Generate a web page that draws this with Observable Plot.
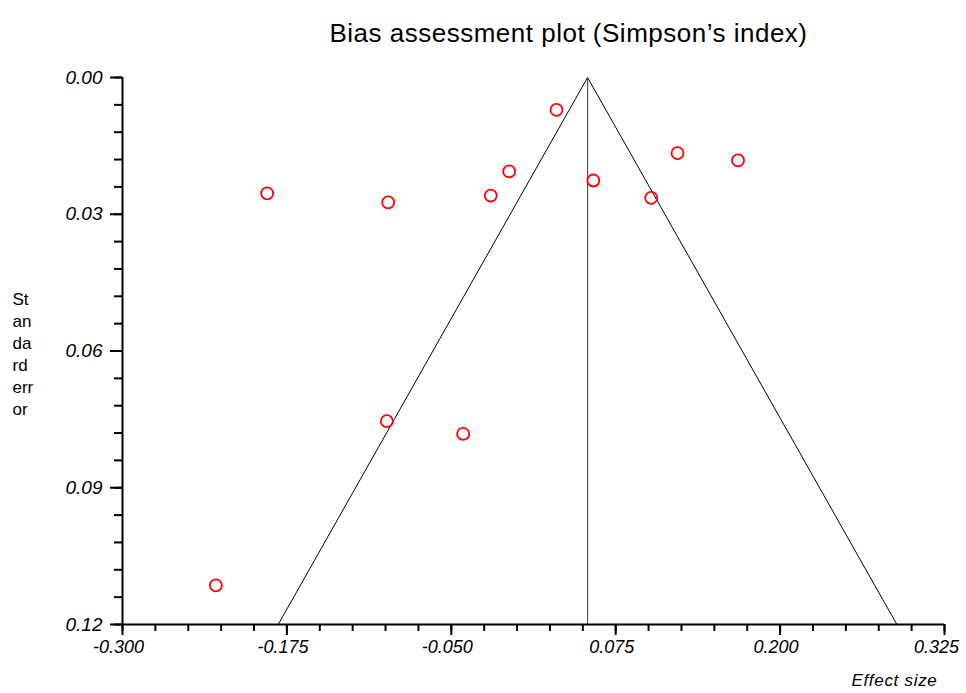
<!DOCTYPE html>
<html><head><meta charset="utf-8">
<script src="https://cdn.jsdelivr.net/npm/d3@7"></script>
<script src="https://cdn.jsdelivr.net/npm/@observablehq/plot@0.6"></script>
<style>body{margin:0;background:#fff;} #chart{width:966px;}</style>
</head><body><div id="chart"></div>
<script>
// Study effect sizes and standard errors
const studyEffect = [-0.190, -0.098, -0.020, -0.006, 0.030, 0.058, 0.102, 0.122, 0.168, -0.099, -0.041, -0.229];
const studySE     = [0.0254, 0.0274, 0.0259, 0.0206, 0.0071, 0.0226, 0.0264, 0.0166, 0.0182, 0.0754, 0.0782, 0.1114];
const pooledEffect = 0.0536;
const zCrit = 1.96;
const seMax = 0.12;

const xMajorTicks = [-0.300, -0.175, -0.050, 0.075, 0.200, 0.325];
const xMinorTicks = [-0.300,-0.275,-0.250,-0.225,-0.200,-0.175,-0.150,-0.125,-0.100,-0.075,-0.050,-0.025,0.000,0.025,0.050,0.075,0.100,0.125,0.150,0.175,0.200,0.225,0.250,0.275,0.300,0.325];
const yMajorTicks = [0.00, 0.03, 0.06, 0.09, 0.12];
const yMinorTicks = [0.000,0.006,0.012,0.018,0.024,0.030,0.036,0.042,0.048,0.054,0.060,0.066,0.072,0.078,0.084,0.090,0.096,0.102,0.108,0.114,0.120];

const titleText = "Bias assessment plot (Simpson’s index)";
const xLabel = "Effect size";
const yLabel = "St\nan\nda\nrd\nerr\nor";

const points = studyEffect.map((x, i) => ({x, se: studySE[i]}));
const funnel = [
  {x: pooledEffect - zCrit * seMax, se: seMax},
  {x: pooledEffect, se: 0},
  {x: pooledEffect + zCrit * seMax, se: seMax}
];

const font = "Liberation Sans, Arial, sans-serif";
const lastTick = xMajorTicks[xMajorTicks.length - 1];

const plot = Plot.plot({
  width: 966, height: 693,
  marginLeft: 122, marginRight: 22, marginTop: 77, marginBottom: 69,
  style: {fontFamily: font, background: "white", color: "black"},
  x: {domain: [-0.3, 0.325], label: null},
  y: {domain: [0, 0.12], reverse: true, label: null},
  marks: [
    Plot.line(funnel, {x: "x", y: "se", stroke: "black", strokeWidth: 1}),
    Plot.ruleX([pooledEffect], {y1: 0, y2: seMax, stroke: "#555", strokeWidth: 1.2}),
    Plot.dot(points, {x: "x", y: "se", r: 6, stroke: "red", strokeWidth: 1.8, fill: "none"}),
    Plot.ruleY([seMax], {stroke: "black", strokeWidth: 2}),
    Plot.ruleX([-0.3], {stroke: "black", strokeWidth: 2}),
    Plot.axisX(xMinorTicks, {tickSize: 7, tickFormat: () => "", strokeWidth: 2, label: null}),
    Plot.axisX(xMajorTicks, {tickSize: 11, tickFormat: () => "", strokeWidth: 2, label: null}),
    Plot.text(xMajorTicks.filter(d => d !== lastTick), {x: d => d, frameAnchor: "bottom", lineAnchor: "top",
      text: d => d.toFixed(3), dx: -4, dy: 16, fontSize: 18, fontStyle: "italic"}),
    Plot.text([lastTick], {x: d => d, frameAnchor: "bottom", lineAnchor: "top",
      text: d => d.toFixed(3), dx: -8, dy: 16, fontSize: 18, fontStyle: "italic"}),
    Plot.axisY(yMinorTicks, {tickSize: 8, tickFormat: () => "", strokeWidth: 2, label: null}),
    Plot.axisY(yMajorTicks, {tickSize: 12, tickPadding: 8, tickFormat: d => d.toFixed(2), strokeWidth: 2,
      fontSize: 19, fontStyle: "italic", label: null}),
    Plot.text([titleText], {text: d => d, frameAnchor: "top", dx: 35, dy: -54, fontSize: 26}),
    Plot.text([xLabel], {text: d => d, frameAnchor: "bottom-right", textAnchor: "end", dx: -7, dy: 61, fontSize: 17, fontStyle: "italic"}),
    Plot.text([yLabel], {text: d => d, frameAnchor: "left", textAnchor: "start", dx: -110, dy: 2, fontSize: 17, lineHeight: 1.3})
  ]
});
plot.querySelectorAll("text").forEach(t => {
  if (t.textContent === titleText) t.setAttribute("letter-spacing", "0.5");
  if (t.textContent === xLabel) t.setAttribute("letter-spacing", "0.7");
});
document.getElementById("chart").appendChild(plot);
</script>
</body></html>
